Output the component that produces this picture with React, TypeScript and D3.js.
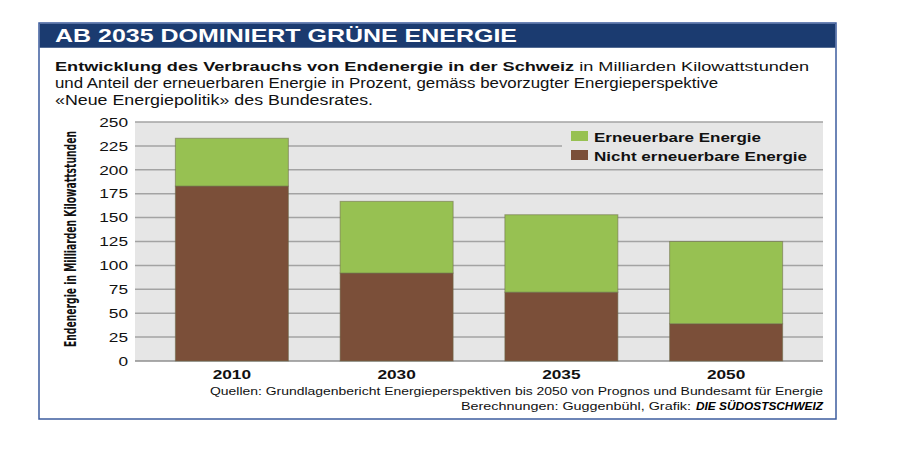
import React from "react";
import * as d3 from "d3";

const years = ["2010", "2030", "2035", "2050"];
const nichtErneuerbar = [183, 92, 72, 39];
const erneuerbar = [50, 75, 81, 86];
const yTicks = [0, 25, 50, 75, 100, 125, 150, 175, 200, 225, 250];
const seriesKeys = ["nicht", "erneuerbar"];
const seriesLabels = ["Nicht erneuerbare Energie", "Erneuerbare Energie"];
const seriesColors = ["#7b4f39", "#97c152"];

const FONT = "'Liberation Sans', Arial, Helvetica, sans-serif";
const SX = 1.33;

export default function App() {
  const W = 900, H = 450;
  const plotL = 135, plotR = 823, plotT = 122, plotB = 361;
  const y = d3.scaleLinear().domain([0, 250]).range([plotB, plotT]);
  const x = d3.scaleBand<string>().domain(years).range([plotL, plotR]).paddingInner(0.314).paddingOuter(0.245);

  const rows = years.map((yr, i) => ({ year: yr, nicht: nichtErneuerbar[i], erneuerbar: erneuerbar[i] }));
  const stack = d3.stack<any>().keys(seriesKeys)(rows);

  return (
    <svg width={W} height={H} style={{ position: "absolute", left: 0, top: 0, background: "#fff" }} fontFamily={FONT}>
      {/* frame */}
      <rect x={39} y={23} width={797} height={396} fill="#fff" stroke="#3c5c9e" strokeWidth={1.5} />
      <rect x={39.75} y={23.75} width={795.5} height={24} fill="#1b3b70" />
      <text x={55} y={42} fill="#fff" fontWeight="bold" fontSize={18} textLength={462} lengthAdjust="spacingAndGlyphs">
        AB 2035 DOMINIERT GRÜNE ENERGIE
      </text>

      {/* subtitle */}
      <text transform={`translate(55,71) scale(1.345,1)`} fill="#111" fontSize={13.5}>
        <tspan fontWeight="bold">Entwicklung des Verbrauchs von Endenergie in der Schweiz</tspan>
        <tspan> in Milliarden Kilowattstunden</tspan>
      </text>
      <text x={55} y={88} fill="#111" fontSize={14} textLength={663} lengthAdjust="spacingAndGlyphs">
        und Anteil der erneuerbaren Energie in Prozent, gemäss bevorzugter Energieperspektive
      </text>
      <text x={55} y={105} fill="#111" fontSize={14} textLength={318} lengthAdjust="spacingAndGlyphs">
        «Neue Energiepolitik» des Bundesrates.
      </text>

      {/* plot background */}
      <rect x={plotL} y={plotT} width={plotR - plotL} height={plotB - plotT} fill="#e6e6e6" />
      {yTicks.map((t) => (
        <g key={t}>
          <line x1={plotL} x2={plotR} y1={y(t)} y2={y(t)} stroke={t === 0 ? "#8f8f8f" : "#a3a3a3"} strokeWidth={1.5} />
          <text transform={`translate(128,${y(t) + 4.7}) scale(${SX},1)`} textAnchor="end" fontSize={13} fill="#111">
            {t}
          </text>
        </g>
      ))}

      {/* legend box */}
      <rect x={562} y={124} width={plotR - 562} height={43} fill="#e6e6e6" />
      {[1, 0].map((k, i) => (
        <g key={k}>
          <rect x={571} y={131 + i * 19} width={17} height={10} fill={seriesColors[k]} />
          <text x={594} y={142 + i * 18.5} fontWeight="bold" fontSize={13} fill="#111"
            textLength={k === 1 ? 167 : 213} lengthAdjust="spacingAndGlyphs">
            {seriesLabels[k]}
          </text>
        </g>
      ))}

      {/* bars */}
      {stack.map((s, si) => (
        <g key={seriesKeys[si]}>
          {s.map((d: any, i: number) => (
            <rect key={i} x={x(years[i])!} width={x.bandwidth()} y={y(d[1])} height={y(d[0]) - y(d[1])}
              fill={seriesColors[si]} stroke="#6b6a48" strokeOpacity={0.55} strokeWidth={1} />
          ))}
        </g>
      ))}

      {/* category labels */}
      {years.map((yr) => (
        <text key={yr} transform={`translate(${x(yr)! + x.bandwidth() / 2},379) scale(${SX},1)`} textAnchor="middle"
          fontWeight="bold" fontSize={13} fill="#111">
          {yr}
        </text>
      ))}

      {/* y axis title */}
      <text transform="translate(76,239) rotate(-90)" textAnchor="middle" fontWeight="bold" fontSize={15.5}
        fontFamily="'Liberation Sans Narrow', 'Arial Narrow', 'DejaVu Sans Condensed', sans-serif"
        textLength={216} lengthAdjust="spacingAndGlyphs" fill="#111">
        Endenergie in Milliarden Kilowattstunden
      </text>

      {/* footer */}
      <text x={823} y={395} textAnchor="end" fontSize={11} fill="#111" textLength={613} lengthAdjust="spacingAndGlyphs">
        Quellen: Grundlagenbericht Energieperspektiven bis 2050 von Prognos und Bundesamt für Energie
      </text>
      <text x={461} y={410} fontSize={11} fill="#111" textLength={230} lengthAdjust="spacingAndGlyphs">
        Berechnungen: Guggenbühl, Grafik:
      </text>
      <text x={696} y={410} fontSize={11} fontWeight="bold" fontStyle="italic" fill="#000" textLength={127}
        lengthAdjust="spacingAndGlyphs">
        DIE SÜDOSTSCHWEIZ
      </text>
    </svg>
  );
}
